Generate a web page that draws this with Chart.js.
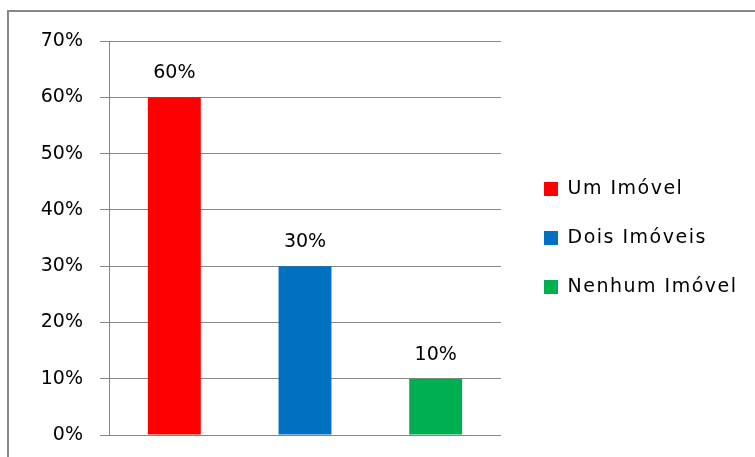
<!DOCTYPE html>
<html lang="pt">
<head>
<meta charset="UTF-8">
<title>Imóveis</title>
<script src="https://cdn.jsdelivr.net/npm/chart.js"></script>
<style>
  html, body { margin: 0; padding: 0; background: #fff; }
  canvas { display: block; }
</style>
</head>
<body>
<canvas id="imoveisChart" width="755" height="457"></canvas>
<script>
const categorias = ['Um Imóvel', 'Dois Imóveis', 'Nenhum Imóvel'];
const percentuais = [60, 30, 10];
const cores = ['#ff0000', '#0070c0', '#00b050'];
const ticksY = [0, 10, 20, 30, 40, 50, 60, 70];

const cinza = '#878787';

// moldura e fundo branco
const moldura = {
  id: 'moldura',
  beforeDraw(chart) {
    const ctx = chart.ctx;
    ctx.save();
    ctx.fillStyle = '#fff';
    ctx.fillRect(0, 0, chart.width, chart.height);
    ctx.strokeStyle = cinza;
    ctx.lineWidth = 2;
    ctx.strokeRect(8, 11, chart.width + 20, chart.height + 20);
    ctx.restore();
  }
};

// valores em cima das barras
const rotulos = {
  id: 'rotulos',
  afterDatasetsDraw(chart) {
    const ctx = chart.ctx;
    const meta = chart.getDatasetMeta(0);
    ctx.save();
    ctx.font = '19px "DejaVu Sans"';
    ctx.fillStyle = '#000';
    ctx.textAlign = 'center';
    ctx.textBaseline = 'alphabetic';
    meta.data.forEach((bar, i) => {
      ctx.fillText(percentuais[i] + '%', bar.x, bar.y - 19);
    });
    ctx.restore();
  }
};

// legenda com largura fixa e letras mais espaçadas
const ajusteLegenda = {
  id: 'ajusteLegenda',
  afterInit(chart) {
    const legend = chart.legend;
    const fit = legend.fit.bind(legend);
    legend.fit = function () { fit(); this.width = 241; };
    const draw = legend.draw.bind(legend);
    legend.draw = function () {
      chart.ctx.letterSpacing = '1.5px';
      draw();
      chart.ctx.letterSpacing = '0px';
    };
  }
};

new Chart(document.getElementById('imoveisChart'), {
  type: 'bar',
  data: {
    labels: categorias,
    datasets: [{
      data: percentuais,
      backgroundColor: cores,
      borderWidth: 0,
      yAxisID: 'y',
      categoryPercentage: 1,
      barPercentage: 0.405
    }]
  },
  options: {
    responsive: false,
    animation: false,
    layout: { padding: { top: 41, bottom: 22, left: 0, right: 0 } },
    scales: {
      x: { display: false },
      y: {
        position: 'left',
        min: 0,
        max: 70,
        afterFit(s) {
          s.width = 109;
          s.paddingTop = 0;
          s.paddingBottom = 0;
        },
        afterBuildTicks(s) { s.ticks = ticksY.map(v => ({ value: v })); },
        grid: { color: cinza, lineWidth: 1, tickLength: 9, drawTicks: true },
        border: { display: true, color: cinza, width: 1 },
        ticks: {
          padding: 17,
          color: '#000',
          font: { family: 'DejaVu Sans', size: 19 },
          callback: v => v + '%'
        }
      },
      folga: {
        type: 'linear',
        position: 'right',
        grid: { display: false },
        border: { display: false },
        ticks: { display: false },
        afterFit(s) { s.width = 13; }
      }
    },
    plugins: {
      tooltip: { enabled: false },
      legend: {
        position: 'right',
        labels: {
          boxWidth: 14,
          boxHeight: 14,
          padding: 30,
          color: '#000',
          font: { family: 'DejaVu Sans', size: 19 },
          generateLabels: () => categorias.map((c, i) => ({
            text: c,
            fillStyle: cores[i],
            strokeStyle: cores[i],
            lineWidth: 0,
            hidden: false,
            index: i,
            datasetIndex: 0
          }))
        }
      }
    }
  },
  plugins: [moldura, rotulos, ajusteLegenda]
});
</script>
</body>
</html>
